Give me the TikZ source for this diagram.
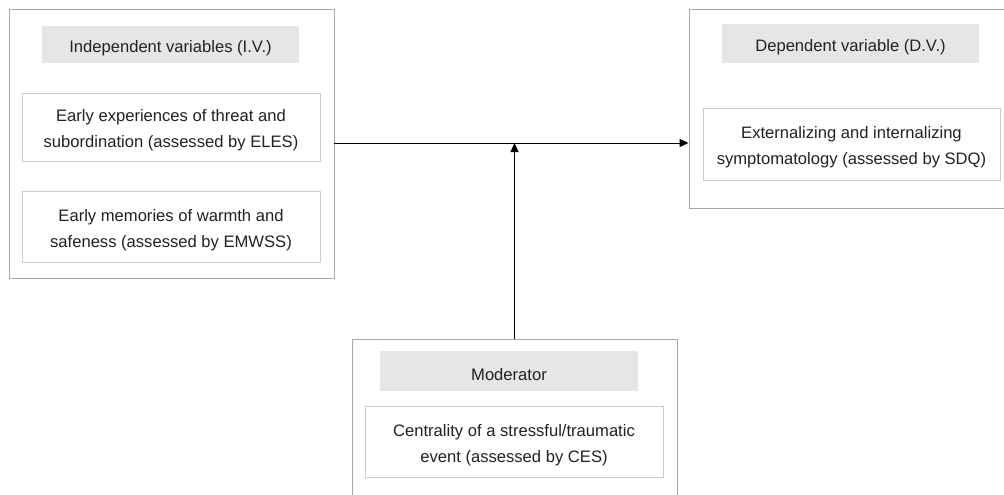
\documentclass[tikz,border=0pt]{standalone}
\usepackage{fontspec}
\setmainfont{Liberation Sans}
\usetikzlibrary{arrows.meta}
\definecolor{outerc}{HTML}{A8A8A8}
\definecolor{innerc}{HTML}{CCCCCC}
\definecolor{headc}{HTML}{E6E6E6}
\definecolor{textc}{HTML}{222222}
\tikzset{
  outerbox/.style={draw=outerc, line width=0.9pt, rectangle, inner sep=0pt},
  headbox/.style={fill=headc, rectangle, inner sep=0pt},
  innerbox/.style={draw=innerc, line width=0.9pt, rectangle, inner sep=0pt},
  txt/.style={inner sep=0pt, align=center, text=textc, font=\fontsize{16.6}{26}\selectfont, yshift=-3.5pt},
  conn/.style={line width=0.9pt, -{Triangle[length=9pt,width=8pt]}}
}
\begin{document}
\begin{tikzpicture}[x=1pt,y=-1pt]
\useasboundingbox (0,0) rectangle (1004,495);
\fill[white] (0,0) rectangle (1004,495);
\clip (0,0) rectangle (1004,495);
% left group
\node[outerbox, minimum width=325pt, minimum height=269pt] (L) at (171.5,143.5) {};
\node[headbox, minimum width=257pt, minimum height=37pt] (Lh) at (170.5,44.5) {};
\node[txt] (Lht) at (Lh.center) {Independent variables (I.V.)};
\node[innerbox, minimum width=298pt, minimum height=68pt] (L1) at (171,127) {};
\node[txt] (L1t) at (L1.center) {Early experiences of threat and\\subordination (assessed by ELES)};
\node[innerbox, minimum width=298pt, minimum height=71pt] (L2) at (171,226.5) {};
\node[txt] (L2t) at (L2.center) {Early memories of warmth and\\safeness (assessed by EMWSS)};
% right group
\node[outerbox, minimum width=321pt, minimum height=199pt] (R) at (849.5,108.5) {};
\node[headbox, minimum width=257pt, minimum height=39pt] (Rh) at (850.5,43.5) {};
\node[txt] (Rht) at (Rh.center) {Dependent variable (D.V.)};
\node[innerbox, minimum width=297pt, minimum height=72pt] (R1) at (851.5,144) {};
\node[txt] (R1t) at (R1.center) {Externalizing and internalizing\\symptomatology (assessed by SDQ)};
% moderator group
\node[outerbox, minimum width=325pt, minimum height=171pt] (M) at (514.5,424.5) {};
\node[headbox, minimum width=258pt, minimum height=40pt] (Mh) at (509,371) {};
\node[txt] (Mht) at (Mh.center) {Moderator};
\node[innerbox, minimum width=298pt, minimum height=71pt] (M1) at (514,441.5) {};
\node[txt] (M1t) at (M1.center) {Centrality of a stressful/traumatic\\event (assessed by CES)};
% connectors
\coordinate (J) at (514.5,143);
\draw[conn] (L.east |- J) -- (R.west |- J);
\draw[conn] (M.north) -- (J);
\end{tikzpicture}
\end{document}
